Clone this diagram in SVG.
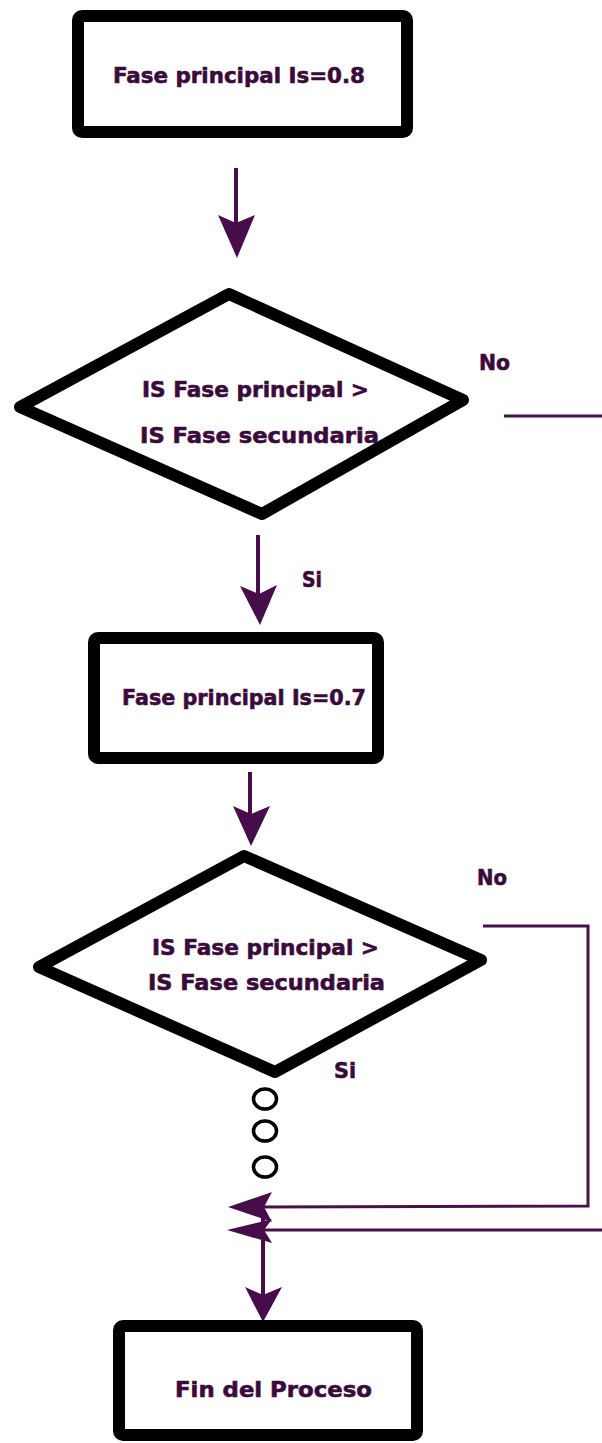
<svg xmlns="http://www.w3.org/2000/svg" width="602" height="1443" viewBox="0 0 602 1443">
<defs>
<style>
.box{fill:#fff;stroke:#000;stroke-width:12;stroke-linejoin:round}
.dia{fill:#fff;stroke:#000;stroke-width:12;stroke-linejoin:round}
.t{font-family:"DejaVu Sans","Liberation Sans",sans-serif;font-weight:bold;font-size:22px;fill:#3a0b3a;stroke:#3a0b3a;stroke-width:0.6}
.shaft{stroke:#470d4a;stroke-width:4;fill:none}
.line{stroke:#47124a;stroke-width:3;fill:none}
.head{fill:#470d4a}
.dot{fill:none;stroke:#000;stroke-width:3.5}
</style>
</defs>
<rect width="602" height="1443" fill="#fff"/>
<g id="connectors">
<path class="shaft" d="M236,168 V232"/>
<polygon class="head" points="218,215 236,223 255,215 237,258"/>
<path class="shaft" d="M258,535 V600"/>
<polygon class="head" points="240,586 259,594 277,585 260,625"/>
<path class="shaft" d="M250,772 V820"/>
<polygon class="head" points="233,806 251,814 270,806 251,846"/>
<path class="line" d="M504,416 H606 V1230 H262"/>
<path class="line" d="M483,926 H588 V1206 L262,1207"/>
<polygon class="head" points="228,1207 272,1192 264,1207 272,1222"/>
<polygon class="head" points="227,1230 272,1219 264,1230 272,1243"/>
<path class="shaft" d="M263,1216 V1300"/>
<polygon class="head" points="245,1287 263,1295 282,1287 263,1322"/>
<text class="t" x="479" y="370" textLength="31" lengthAdjust="spacingAndGlyphs">No</text>
<text class="t" x="302" y="587" textLength="20" lengthAdjust="spacingAndGlyphs">Si</text>
<text class="t" x="477" y="885" textLength="30" lengthAdjust="spacingAndGlyphs">No</text>
<text class="t" x="334" y="1078" textLength="22" lengthAdjust="spacingAndGlyphs">Si</text>
</g>
<g id="n1">
<rect class="box" x="78" y="16" width="329" height="116" rx="4"/>
<text class="t" x="113" y="83" textLength="252" lengthAdjust="spacingAndGlyphs">Fase principal Is=0.8</text>
</g>
<g id="d1">
<polygon class="dia" points="229,294 463,400 262,514 20,407"/>
<text class="t" x="142" y="397" textLength="227" lengthAdjust="spacingAndGlyphs">IS Fase principal &gt;</text>
<text class="t" x="140" y="443" textLength="239" lengthAdjust="spacingAndGlyphs">IS Fase secundaria</text>
</g>
<g id="n2">
<rect class="box" x="94" y="638" width="284" height="120" rx="4"/>
<text class="t" x="122" y="705" textLength="244" lengthAdjust="spacingAndGlyphs">Fase principal Is=0.7</text>
</g>
<g id="d2">
<polygon class="dia" points="244,856 481,960 275,1072 39,967"/>
<text class="t" x="152" y="955" textLength="227" lengthAdjust="spacingAndGlyphs">IS Fase principal &gt;</text>
<text class="t" x="148" y="990" textLength="237" lengthAdjust="spacingAndGlyphs">IS Fase secundaria</text>
</g>
<g id="dots">
<ellipse class="dot" cx="265" cy="1099" rx="11.5" ry="10"/>
<ellipse class="dot" cx="265" cy="1131" rx="11.5" ry="10"/>
<ellipse class="dot" cx="265" cy="1167" rx="11.5" ry="10"/>
</g>
<g id="n3">
<rect class="box" x="119" y="1326" width="298" height="109" rx="4"/>
<text class="t" x="175" y="1397" textLength="197" lengthAdjust="spacingAndGlyphs">Fin del Proceso</text>
</g>
</svg>
